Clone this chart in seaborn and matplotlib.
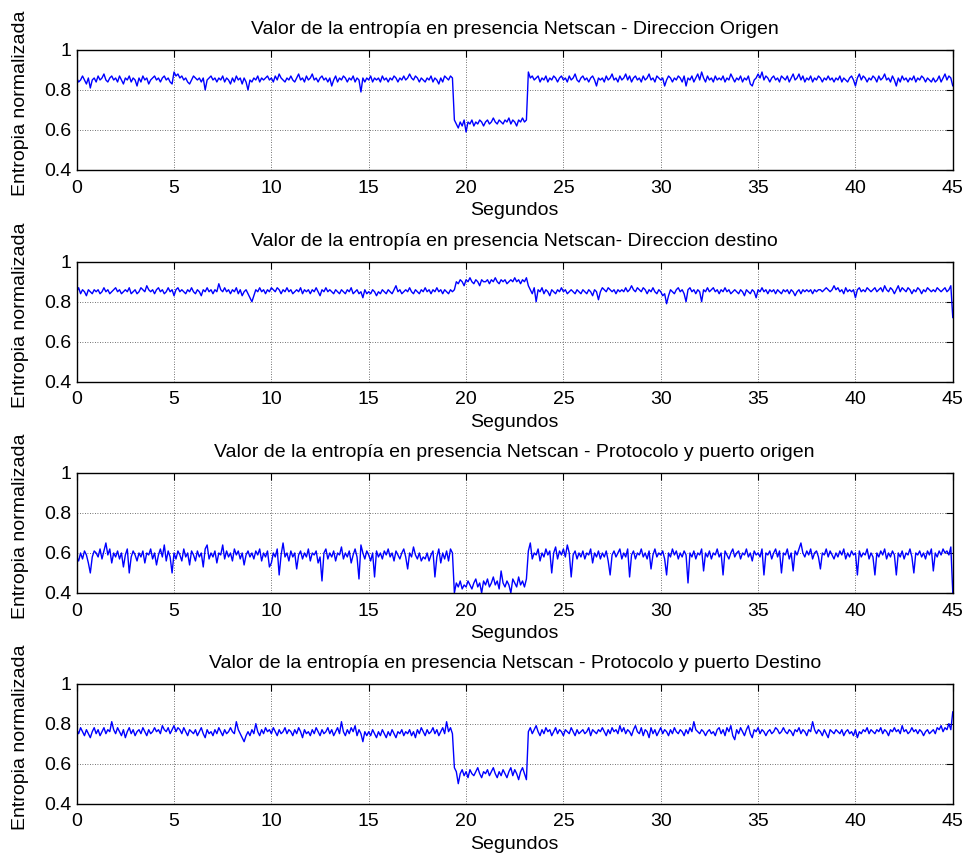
import numpy as np
import pandas as pd
import matplotlib
matplotlib.use("Agg")
import matplotlib.pyplot as plt
import seaborn as sns

# muestras cada 0.1 s, una fila = 1 segundo
paso = 0.1

origen = [
    0.86, 0.84, 0.85, 0.87, 0.85, 0.83, 0.86, 0.81, 0.85, 0.86,
    0.84, 0.87, 0.85, 0.86, 0.88, 0.85, 0.84, 0.86, 0.87, 0.85,
    0.86, 0.84, 0.87, 0.85, 0.83, 0.86, 0.85, 0.87, 0.84, 0.86,
    0.85, 0.82, 0.86, 0.84, 0.87, 0.85, 0.86, 0.83, 0.85, 0.86,
    0.87, 0.85, 0.86, 0.84, 0.86, 0.87, 0.85, 0.86, 0.84, 0.83,
    0.89, 0.87, 0.88, 0.86, 0.87, 0.85, 0.86, 0.84, 0.83, 0.85,
    0.87, 0.86, 0.85, 0.86, 0.84, 0.86, 0.80, 0.85, 0.86, 0.87,
    0.85, 0.86, 0.84, 0.86, 0.85, 0.87, 0.84, 0.86, 0.85, 0.83,
    0.86, 0.84, 0.87, 0.85, 0.86, 0.83, 0.86, 0.84, 0.80, 0.85,
    0.84, 0.86, 0.85, 0.87, 0.84, 0.86, 0.85, 0.86, 0.87, 0.85,
    0.86, 0.84, 0.87, 0.85, 0.88, 0.86, 0.85, 0.84, 0.86, 0.85,
    0.87, 0.85, 0.84, 0.86, 0.88, 0.85, 0.86, 0.84, 0.87, 0.85,
    0.86, 0.88, 0.85, 0.86, 0.84, 0.86, 0.87, 0.85, 0.86, 0.84,
    0.86, 0.82, 0.85, 0.87, 0.84, 0.86, 0.85, 0.87, 0.86, 0.84,
    0.86, 0.85, 0.87, 0.84, 0.86, 0.85, 0.79, 0.86, 0.84, 0.86,
    0.85, 0.87, 0.84, 0.86, 0.85, 0.86, 0.84, 0.87, 0.85, 0.86,
    0.84, 0.86, 0.85, 0.87, 0.86, 0.84, 0.86, 0.85, 0.87, 0.85,
    0.86, 0.88, 0.86, 0.85, 0.87, 0.86, 0.84, 0.86, 0.85, 0.84,
    0.86, 0.85, 0.87, 0.84, 0.86, 0.85, 0.83, 0.86, 0.84, 0.87,
    0.86, 0.85, 0.87, 0.86, 0.65, 0.63, 0.61, 0.64, 0.62, 0.65,
    0.59, 0.64, 0.63, 0.65, 0.62, 0.64, 0.63, 0.65, 0.64, 0.62,
    0.64, 0.65, 0.63, 0.64, 0.66, 0.64, 0.63, 0.65, 0.64, 0.63,
    0.65, 0.64, 0.66, 0.63, 0.65, 0.64, 0.62, 0.65, 0.64, 0.66,
    0.64, 0.65, 0.89, 0.86, 0.87, 0.85, 0.86, 0.87, 0.84, 0.86,
    0.85, 0.87, 0.84, 0.86, 0.85, 0.87, 0.86, 0.84, 0.86, 0.87,
    0.85, 0.86, 0.84, 0.87, 0.85, 0.86, 0.88, 0.85, 0.84, 0.86,
    0.87, 0.85, 0.86, 0.84, 0.86, 0.87, 0.85, 0.82, 0.86, 0.85,
    0.86, 0.84, 0.87, 0.85, 0.86, 0.88, 0.85, 0.86, 0.84, 0.87,
    0.85, 0.86, 0.88, 0.85, 0.87, 0.84, 0.86, 0.87, 0.85, 0.86,
    0.84, 0.87, 0.85, 0.86, 0.88, 0.85, 0.86, 0.84, 0.87, 0.86,
    0.85, 0.86, 0.82, 0.85, 0.87, 0.86, 0.84, 0.86, 0.85, 0.87,
    0.86, 0.84, 0.87, 0.82, 0.86, 0.85, 0.87, 0.84, 0.86, 0.88,
    0.85, 0.89, 0.86, 0.84, 0.87, 0.85, 0.86, 0.84, 0.87, 0.85,
    0.86, 0.85, 0.87, 0.84, 0.86, 0.85, 0.88, 0.86, 0.84, 0.86,
    0.85, 0.87, 0.84, 0.86, 0.85, 0.87, 0.83, 0.82, 0.85, 0.86,
    0.88, 0.86, 0.89, 0.85, 0.87, 0.86, 0.84, 0.86, 0.87, 0.85,
    0.86, 0.84, 0.87, 0.86, 0.85, 0.87, 0.84, 0.86, 0.88, 0.85,
    0.86, 0.88, 0.85, 0.87, 0.84, 0.86, 0.85, 0.87, 0.84, 0.86,
    0.85, 0.87, 0.86, 0.84, 0.86, 0.85, 0.87, 0.85, 0.86, 0.84,
    0.86, 0.85, 0.87, 0.84, 0.86, 0.85, 0.84, 0.86, 0.87, 0.85,
    0.82, 0.86, 0.88, 0.85, 0.87, 0.86, 0.84, 0.86, 0.85, 0.87,
    0.86, 0.84, 0.87, 0.85, 0.86, 0.88, 0.85, 0.86, 0.84, 0.87,
    0.85, 0.82, 0.86, 0.84, 0.87, 0.85, 0.86, 0.84, 0.86, 0.85,
    0.87, 0.84, 0.86, 0.85, 0.87, 0.86, 0.84, 0.86, 0.85, 0.84,
    0.86, 0.84, 0.85, 0.87, 0.84, 0.86, 0.88, 0.85, 0.87, 0.86,
    0.82,
]

destino = [
    0.85, 0.87, 0.84, 0.86, 0.85, 0.83, 0.86, 0.85, 0.84, 0.86,
    0.85, 0.86, 0.84, 0.85, 0.87, 0.85, 0.86, 0.84, 0.85, 0.86,
    0.87, 0.85, 0.86, 0.84, 0.85, 0.86, 0.85, 0.87, 0.84, 0.85,
    0.86, 0.84, 0.85, 0.87, 0.86, 0.85, 0.88, 0.86, 0.85, 0.86,
    0.84, 0.86, 0.87, 0.85, 0.86, 0.84, 0.85, 0.87, 0.85, 0.86,
    0.83, 0.86, 0.87, 0.85, 0.86, 0.85, 0.84, 0.86, 0.85, 0.87,
    0.85, 0.84, 0.86, 0.85, 0.83, 0.86, 0.85, 0.87, 0.85, 0.86,
    0.84, 0.86, 0.85, 0.89, 0.86, 0.85, 0.87, 0.85, 0.86, 0.84,
    0.86, 0.85, 0.87, 0.84, 0.86, 0.83, 0.85, 0.86, 0.84, 0.82,
    0.80, 0.83, 0.86, 0.85, 0.87, 0.85, 0.86, 0.84, 0.86, 0.85,
    0.87, 0.86, 0.85, 0.87, 0.86, 0.84, 0.86, 0.85, 0.87, 0.85,
    0.86, 0.84, 0.85, 0.86, 0.85, 0.87, 0.84, 0.86, 0.85, 0.86,
    0.84, 0.86, 0.85, 0.87, 0.85, 0.83, 0.86, 0.85, 0.87, 0.85,
    0.86, 0.85, 0.84, 0.86, 0.85, 0.84, 0.86, 0.85, 0.84, 0.86,
    0.85, 0.87, 0.84, 0.85, 0.86, 0.84, 0.85, 0.82, 0.86, 0.84,
    0.85, 0.84, 0.86, 0.85, 0.83, 0.85, 0.84, 0.86, 0.85, 0.84,
    0.86, 0.85, 0.84, 0.86, 0.88, 0.85, 0.86, 0.84, 0.85, 0.86,
    0.85, 0.87, 0.85, 0.84, 0.86, 0.85, 0.84, 0.86, 0.85, 0.87,
    0.85, 0.86, 0.84, 0.86, 0.85, 0.87, 0.85, 0.86, 0.84, 0.86,
    0.85, 0.84, 0.86, 0.85, 0.86, 0.90, 0.89, 0.91, 0.90, 0.88,
    0.91, 0.90, 0.92, 0.90, 0.89, 0.91, 0.90, 0.88, 0.91, 0.90,
    0.90, 0.91, 0.89, 0.91, 0.90, 0.92, 0.90, 0.89, 0.91, 0.90,
    0.91, 0.89, 0.90, 0.91, 0.90, 0.92, 0.90, 0.91, 0.89, 0.91,
    0.90, 0.92, 0.88, 0.86, 0.84, 0.87, 0.80, 0.86, 0.85, 0.87,
    0.84, 0.86, 0.85, 0.83, 0.86, 0.85, 0.84, 0.86, 0.85, 0.87,
    0.85, 0.86, 0.84, 0.85, 0.86, 0.85, 0.84, 0.86, 0.85, 0.84,
    0.86, 0.85, 0.84, 0.86, 0.85, 0.83, 0.86, 0.85, 0.81, 0.85,
    0.87, 0.86, 0.85, 0.87, 0.86, 0.85, 0.86, 0.84, 0.86, 0.85,
    0.86, 0.85, 0.87, 0.85, 0.86, 0.88, 0.86, 0.85, 0.87, 0.86,
    0.85, 0.87, 0.86, 0.84, 0.86, 0.85, 0.87, 0.85, 0.84, 0.86,
    0.85, 0.83, 0.84, 0.79, 0.83, 0.86, 0.85, 0.84, 0.86, 0.87,
    0.85, 0.86, 0.84, 0.80, 0.86, 0.87, 0.85, 0.86, 0.84, 0.86,
    0.85, 0.80, 0.86, 0.85, 0.87, 0.85, 0.86, 0.87, 0.85, 0.86,
    0.84, 0.86, 0.85, 0.87, 0.85, 0.86, 0.84, 0.85, 0.86, 0.85,
    0.84, 0.86, 0.85, 0.83, 0.86, 0.85, 0.84, 0.86, 0.85, 0.82,
    0.86, 0.85, 0.87, 0.85, 0.86, 0.84, 0.86, 0.85, 0.86, 0.84,
    0.86, 0.85, 0.84, 0.86, 0.85, 0.86, 0.84, 0.86, 0.85, 0.83,
    0.85, 0.86, 0.84, 0.86, 0.85, 0.86, 0.85, 0.86, 0.84, 0.86,
    0.85, 0.86, 0.86, 0.85, 0.86, 0.87, 0.86, 0.85, 0.86, 0.88,
    0.86, 0.87, 0.85, 0.86, 0.84, 0.87, 0.85, 0.86, 0.85, 0.86,
    0.82, 0.86, 0.87, 0.85, 0.86, 0.85, 0.87, 0.86, 0.85, 0.86,
    0.87, 0.85, 0.86, 0.87, 0.85, 0.88, 0.86, 0.85, 0.87, 0.86,
    0.84, 0.86, 0.88, 0.85, 0.87, 0.86, 0.85, 0.87, 0.86, 0.84,
    0.86, 0.85, 0.87, 0.86, 0.84, 0.86, 0.85, 0.87, 0.86, 0.85,
    0.86, 0.85, 0.87, 0.86, 0.85, 0.86, 0.87, 0.85, 0.86, 0.88,
    0.72,
]

prot_origen = [
    0.58, 0.56, 0.60, 0.57, 0.61, 0.59, 0.55, 0.50, 0.58, 0.61,
    0.60, 0.58, 0.62, 0.57, 0.61, 0.65, 0.59, 0.62, 0.55, 0.60,
    0.58, 0.61, 0.57, 0.60, 0.53, 0.59, 0.62, 0.50, 0.58, 0.61,
    0.59, 0.56, 0.60, 0.58, 0.61, 0.55, 0.60, 0.59, 0.62, 0.57,
    0.60, 0.54, 0.59, 0.62, 0.58, 0.64, 0.56, 0.61, 0.58, 0.50,
    0.60, 0.57, 0.61, 0.59, 0.56, 0.62, 0.58, 0.60, 0.54, 0.61,
    0.59, 0.56, 0.61, 0.58, 0.60, 0.53, 0.62, 0.64, 0.57, 0.60,
    0.58, 0.61, 0.55, 0.60, 0.59, 0.64, 0.57, 0.61, 0.58, 0.60,
    0.56, 0.62, 0.59, 0.61, 0.57, 0.60, 0.54, 0.59, 0.61, 0.58,
    0.60, 0.57, 0.61, 0.59, 0.62, 0.56, 0.60, 0.58, 0.61, 0.53,
    0.55, 0.60, 0.58, 0.62, 0.49, 0.59, 0.65, 0.58, 0.60, 0.56,
    0.61, 0.58, 0.60, 0.52, 0.59, 0.61, 0.57, 0.60, 0.58, 0.62,
    0.56, 0.60, 0.59, 0.61, 0.55, 0.58, 0.46, 0.60, 0.62, 0.57,
    0.60, 0.58, 0.61, 0.56, 0.60, 0.59, 0.63, 0.57, 0.60, 0.58,
    0.61, 0.55, 0.59, 0.62, 0.58, 0.47, 0.64, 0.60, 0.57, 0.61,
    0.59, 0.56, 0.60, 0.48, 0.61, 0.58, 0.60, 0.57, 0.61, 0.59,
    0.62, 0.58, 0.60, 0.56, 0.61, 0.59, 0.57, 0.60, 0.62, 0.58,
    0.52, 0.60, 0.58, 0.63, 0.59, 0.57, 0.60, 0.56, 0.58, 0.57,
    0.60, 0.56, 0.59, 0.61, 0.48, 0.58, 0.62, 0.55, 0.60, 0.57,
    0.61, 0.56, 0.62, 0.60, 0.40, 0.45, 0.43, 0.46, 0.42, 0.44,
    0.43, 0.46, 0.44, 0.42, 0.45, 0.47, 0.43, 0.45, 0.40, 0.46,
    0.44, 0.47, 0.43, 0.45, 0.48, 0.44, 0.46, 0.42, 0.51, 0.45,
    0.43, 0.46, 0.44, 0.40, 0.47, 0.45, 0.43, 0.48, 0.44, 0.46,
    0.43, 0.47, 0.61, 0.65, 0.57, 0.60, 0.59, 0.62, 0.56, 0.60,
    0.58, 0.62, 0.59, 0.61, 0.50, 0.60, 0.63, 0.57, 0.61, 0.59,
    0.62, 0.58, 0.64, 0.60, 0.48, 0.59, 0.61, 0.57, 0.60, 0.58,
    0.61, 0.57, 0.60, 0.59, 0.62, 0.55, 0.60, 0.58, 0.61, 0.57,
    0.60, 0.58, 0.61, 0.56, 0.49, 0.59, 0.61, 0.58, 0.60, 0.62,
    0.57, 0.60, 0.58, 0.62, 0.48, 0.59, 0.61, 0.57, 0.60, 0.59,
    0.62, 0.58, 0.60, 0.57, 0.61, 0.52, 0.59, 0.62, 0.58, 0.60,
    0.59, 0.61, 0.57, 0.49, 0.60, 0.58, 0.62, 0.59, 0.61, 0.57,
    0.60, 0.58, 0.61, 0.59, 0.45, 0.60, 0.58, 0.61, 0.57, 0.60,
    0.59, 0.62, 0.51, 0.60, 0.58, 0.61, 0.57, 0.60, 0.59, 0.62,
    0.58, 0.60, 0.49, 0.61, 0.59, 0.57, 0.60, 0.62, 0.58, 0.60,
    0.61, 0.57, 0.60, 0.59, 0.62, 0.58, 0.60, 0.56, 0.61, 0.59,
    0.60, 0.58, 0.62, 0.49, 0.60, 0.59, 0.61, 0.57, 0.60, 0.62,
    0.58, 0.61, 0.50, 0.60, 0.59, 0.62, 0.57, 0.60, 0.51, 0.61,
    0.59, 0.62, 0.65, 0.60, 0.58, 0.61, 0.59, 0.62, 0.57, 0.60,
    0.61, 0.58, 0.52, 0.60, 0.59, 0.62, 0.58, 0.61, 0.59, 0.57,
    0.60, 0.58, 0.61, 0.59, 0.62, 0.57, 0.60, 0.58, 0.61, 0.59,
    0.60, 0.49, 0.61, 0.58, 0.60, 0.59, 0.62, 0.57, 0.60, 0.58,
    0.49, 0.60, 0.58, 0.61, 0.59, 0.62, 0.57, 0.60, 0.58, 0.61,
    0.59, 0.49, 0.60, 0.58, 0.61, 0.57, 0.60, 0.59, 0.62, 0.58,
    0.50, 0.60, 0.59, 0.61, 0.58, 0.60, 0.57, 0.61, 0.59, 0.62,
    0.51, 0.60, 0.58, 0.61, 0.59, 0.62, 0.60, 0.61, 0.59, 0.63,
    0.40,
]

prot_destino = [
    0.77, 0.75, 0.78, 0.76, 0.74, 0.77, 0.75, 0.73, 0.76, 0.78,
    0.75, 0.77, 0.74, 0.76, 0.78, 0.75, 0.77, 0.76, 0.81, 0.77,
    0.75, 0.78, 0.76, 0.74, 0.77, 0.73, 0.76, 0.78, 0.75, 0.77,
    0.74, 0.76, 0.77, 0.75, 0.78, 0.76, 0.74, 0.77, 0.75, 0.76,
    0.78, 0.76, 0.77, 0.75, 0.79, 0.77, 0.76, 0.78, 0.75, 0.77,
    0.79, 0.76, 0.78, 0.77, 0.75, 0.78, 0.76, 0.74, 0.77, 0.76,
    0.75, 0.77, 0.74, 0.76, 0.78, 0.75, 0.73, 0.77, 0.75, 0.76,
    0.74, 0.77, 0.75, 0.78, 0.76, 0.74, 0.77, 0.75, 0.76, 0.78,
    0.76, 0.75, 0.81, 0.77, 0.75, 0.73, 0.71, 0.74, 0.76, 0.74,
    0.77, 0.75, 0.80, 0.76, 0.74, 0.77, 0.75, 0.78, 0.76, 0.77,
    0.75, 0.78, 0.76, 0.74, 0.77, 0.75, 0.76, 0.78, 0.75, 0.77,
    0.76, 0.74, 0.77, 0.75, 0.78, 0.76, 0.73, 0.77, 0.75, 0.76,
    0.74, 0.77, 0.75, 0.78, 0.76, 0.74, 0.77, 0.75, 0.76, 0.78,
    0.75, 0.77, 0.74, 0.76, 0.78, 0.75, 0.81, 0.76, 0.74, 0.77,
    0.75, 0.78, 0.76, 0.79, 0.74, 0.77, 0.75, 0.71, 0.76, 0.74,
    0.76, 0.74, 0.77, 0.75, 0.73, 0.76, 0.74, 0.77, 0.75, 0.73,
    0.76, 0.74, 0.77, 0.75, 0.73, 0.76, 0.75, 0.77, 0.74, 0.76,
    0.75, 0.77, 0.74, 0.76, 0.73, 0.77, 0.75, 0.78, 0.76, 0.74,
    0.77, 0.75, 0.76, 0.78, 0.75, 0.77, 0.74, 0.76, 0.78, 0.75,
    0.81, 0.76, 0.78, 0.75, 0.58, 0.56, 0.50, 0.55, 0.57, 0.54,
    0.56, 0.53, 0.57, 0.55, 0.54, 0.56, 0.58, 0.55, 0.53, 0.56,
    0.55, 0.57, 0.54, 0.56, 0.58, 0.55, 0.53, 0.56, 0.54, 0.57,
    0.55, 0.53, 0.56, 0.58, 0.54, 0.57, 0.55, 0.52, 0.56, 0.58,
    0.55, 0.52, 0.76, 0.78, 0.75, 0.77, 0.79, 0.76, 0.74, 0.77,
    0.75, 0.78, 0.76, 0.77, 0.74, 0.76, 0.78, 0.75, 0.77, 0.76,
    0.74, 0.77, 0.76, 0.75, 0.78, 0.76, 0.74, 0.77, 0.75, 0.76,
    0.77, 0.75, 0.76, 0.78, 0.74, 0.77, 0.76, 0.75, 0.77, 0.76,
    0.78, 0.76, 0.74, 0.77, 0.75, 0.78, 0.76, 0.77, 0.75, 0.79,
    0.76, 0.78, 0.75, 0.77, 0.76, 0.74, 0.77, 0.79, 0.76, 0.75,
    0.78, 0.74, 0.77, 0.76, 0.73, 0.78, 0.75, 0.77, 0.74, 0.76,
    0.78, 0.75, 0.77, 0.76, 0.74, 0.77, 0.75, 0.78, 0.76, 0.75,
    0.77, 0.76, 0.74, 0.77, 0.75, 0.78, 0.76, 0.81, 0.77, 0.76,
    0.75, 0.77, 0.76, 0.74, 0.76, 0.77, 0.75, 0.76, 0.74, 0.77,
    0.78, 0.75, 0.77, 0.74, 0.78, 0.76, 0.79, 0.74, 0.72, 0.77,
    0.75, 0.78, 0.76, 0.74, 0.77, 0.79, 0.75, 0.73, 0.77, 0.76,
    0.78, 0.75, 0.77, 0.76, 0.74, 0.76, 0.77, 0.75, 0.76, 0.78,
    0.77, 0.75, 0.76, 0.78, 0.76, 0.75, 0.77, 0.76, 0.74, 0.77,
    0.76, 0.78, 0.75, 0.77, 0.76, 0.74, 0.77, 0.76, 0.81, 0.77,
    0.75, 0.77, 0.76, 0.74, 0.77, 0.75, 0.73, 0.77, 0.76, 0.75,
    0.77, 0.76, 0.75, 0.77, 0.74, 0.76, 0.77, 0.75, 0.76, 0.74,
    0.77, 0.73, 0.76, 0.75, 0.77, 0.76, 0.78, 0.75, 0.77, 0.76,
    0.75, 0.77, 0.76, 0.78, 0.75, 0.77, 0.76, 0.74, 0.77, 0.76,
    0.78, 0.76, 0.77, 0.75, 0.79, 0.76, 0.77, 0.75, 0.76, 0.78,
    0.76, 0.77, 0.75, 0.77, 0.76, 0.74, 0.76, 0.77, 0.75, 0.76,
    0.77, 0.75, 0.78, 0.77, 0.79, 0.76, 0.78, 0.77, 0.80, 0.77,
    0.86,
]

titulos = [
    "Valor de la entropía en presencia Netscan - Direccion Origen",
    "Valor de la entropía en presencia Netscan- Direccion destino",
    "Valor de la entropía en presencia Netscan - Protocolo y puerto origen",
    "Valor de la entropía en presencia Netscan - Protocolo y puerto Destino",
]
series = [origen, destino, prot_origen, prot_destino]
xticks = [0, 5, 10, 15, 20, 25, 30, 35, 40, 45]
yticks = [0.4, 0.6, 0.8, 1.0]
ytick_labels = ["0.4", "0.6", "0.8", "1"]

sns.set_style("white")
plt.rcParams["font.family"] = ["Liberation Sans", "DejaVu Sans"]
plt.rcParams["font.size"] = 14
plt.rcParams["text.color"] = "black"
plt.rcParams["axes.labelcolor"] = "black"

fig = plt.figure(figsize=(9.67, 8.59), dpi=100)
bottoms = [0.8021, 0.5556, 0.3097, 0.0644]

for i in range(4):
    ax = fig.add_axes([0.0793, bottoms[i], 0.906, 0.1397])
    df = pd.DataFrame({"Segundos": np.arange(len(series[i])) * paso, "valor": series[i]})
    sns.lineplot(data=df, x="Segundos", y="valor", ax=ax, color="#0000ff",
                 linewidth=1.0, estimator=None)
    ax.set_xlim(0, 45)
    ax.set_ylim(0.4, 1)
    ax.set_xticks(xticks)
    ax.set_yticks(yticks)
    ax.set_yticklabels(ytick_labels)
    ax.grid(True, color="#444444", linestyle=(0, (1, 2)), linewidth=0.6)
    ax.tick_params(direction="in", top=True, right=True, length=5, width=0.8,
                   labelsize=14, colors="black")
    ax.tick_params(axis="x", pad=7)
    ax.tick_params(axis="y", pad=4)
    for s in ax.spines.values():
        s.set_color("black")
        s.set_linewidth(1.0)
    ax.set_title(titulos[i], fontsize=14, pad=11.5, color="black")
    ax.set_xlabel("Segundos", fontsize=14, labelpad=4, color="black")
    ax.set_ylabel("Entropia normalizada", fontsize=14, color="black")
    ax.yaxis.set_label_coords(-0.0545, 0.554)

fig.savefig("out.png", dpi=100)
